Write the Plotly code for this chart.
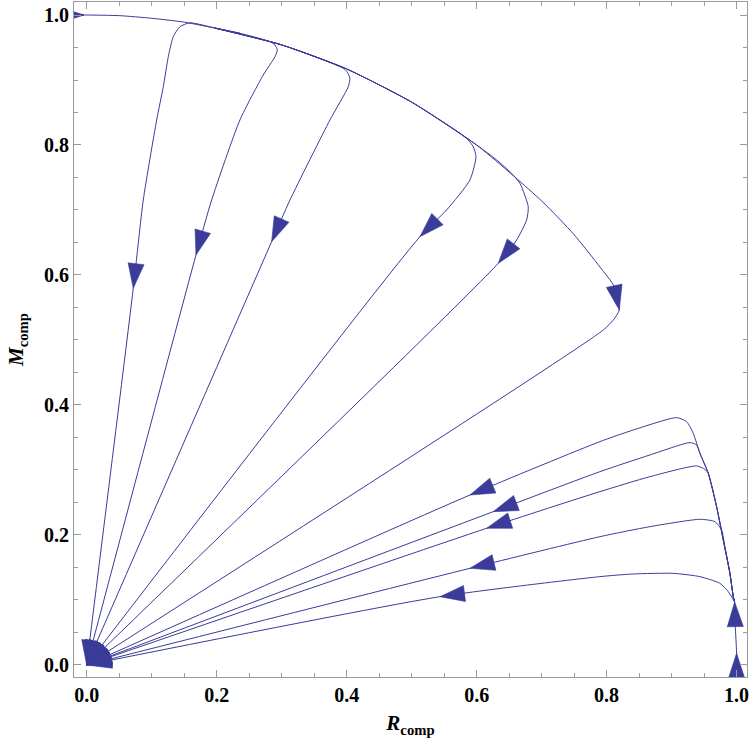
import plotly.graph_objects as go

# ---------------- data ----------------
# trajectory along the top arc towards (0, 1)
t0_x = [0.197, 0.15, 0.10, 0.05, 0.0, -0.02]
t0_y = [0.980, 0.989, 0.995, 0.999, 1.0, 1.0]
t0_arrows = []

# short stream segment at the left edge, top
e_x = [-0.05, -0.004]
e_y = [1.0, 1.0]
e_arrows = [1]

# upper group (leave the arc, run to the origin)
u1_x = [0.236, 0.197, 0.159, 0.1436, 0.1333, 0.1256, 0.1179, 0.1077, 0.0871, 0.0717, 0.0]
u1_y = [0.972, 0.980, 0.988, 0.982, 0.9667, 0.9358, 0.8897, 0.8385, 0.7154, 0.5795, 0.0]
u1_arrows = [9, 10]

u2_x = [0.197, 0.235, 0.282, 0.2897, 0.2933, 0.2897, 0.2717, 0.2358, 0.1923, 0.1682, 0.0]
u2_y = [0.980, 0.972, 0.959, 0.9538, 0.9462, 0.9358, 0.9077, 0.8385, 0.7154, 0.6308, 0.0]
u2_arrows = [9, 10]

u3_x = [0.197, 0.30, 0.3948, 0.401, 0.4051, 0.4025, 0.3743, 0.3128, 0.2846, 0.0]
u3_y = [0.980, 0.954, 0.918, 0.912, 0.9026, 0.8897, 0.8385, 0.7154, 0.6513, 0.0]
u3_arrows = [8, 9]

u4_x = [0.197, 0.30, 0.40, 0.50, 0.5743, 0.587, 0.5948, 0.599, 0.5897, 0.5538, 0.5128, 0.0]
u4_y = [0.980, 0.954, 0.917, 0.866, 0.818, 0.8077, 0.7974, 0.782, 0.7462, 0.70, 0.659, 0.0]
u4_arrows = [10, 11]

u5_x = [0.197, 0.30, 0.40, 0.50, 0.60, 0.6308, 0.6538, 0.6666, 0.6794, 0.6769, 0.6615, 0.6333, 0.0]
u5_y = [0.980, 0.954, 0.917, 0.866, 0.800, 0.7769, 0.7564, 0.741, 0.7051, 0.6846, 0.6538, 0.618, 0.0]
u5_arrows = [11, 12]

u6_x = [0.197, 0.30, 0.40, 0.50, 0.60, 0.70, 0.75, 0.79, 0.812, 0.8195, 0.8103, 0.7949, 0.0]
u6_y = [0.980, 0.954, 0.917, 0.866, 0.800, 0.714, 0.662, 0.612, 0.582, 0.5462, 0.5308, 0.5154, 0.0]
u6_arrows = [9, 12]

# vertical start at (1, 0)
s_x = [1.0, 1.0, 0.998, 0.997]
s_y = [-0.02, 0.018, 0.06, 0.097]
s_arrows = [1, 3]

# lower group (rise along the right arc, then run to the origin)
l1_x = [0.997, 0.9949, 0.9897, 0.9795, 0.9692, 0.9564, 0.9436, 0.9333, 0.9231, 0.9077, 0.841, 0.7897, 0.5897, 0.0]
l1_y = [0.097, 0.1051, 0.141, 0.1923, 0.2436, 0.2949, 0.3256, 0.3564, 0.3744, 0.3805, 0.3615, 0.3436, 0.2615, 0.0]
l1_arrows = [12, 13]

l2_x = [0.997, 0.9949, 0.9897, 0.9795, 0.9692, 0.9564, 0.9436, 0.9385, 0.9282, 0.8666, 0.7897, 0.6256, 0.0]
l2_y = [0.097, 0.1051, 0.141, 0.1923, 0.2436, 0.2949, 0.3256, 0.3385, 0.3421, 0.3231, 0.2974, 0.2359, 0.0]
l2_arrows = [11, 12]

l3_x = [0.997, 0.9949, 0.9897, 0.9795, 0.9692, 0.9564, 0.9513, 0.9385, 0.8666, 0.7897, 0.6154, 0.0]
l3_y = [0.097, 0.1051, 0.141, 0.1923, 0.2436, 0.2949, 0.3010, 0.3062, 0.2897, 0.2667, 0.2103, 0.0]
l3_arrows = [10, 11]

l4_x = [0.997, 0.9949, 0.9897, 0.982, 0.9769, 0.9667, 0.9436, 0.8666, 0.7897, 0.5897, 0.0]
l4_y = [0.097, 0.1051, 0.141, 0.182, 0.2077, 0.2205, 0.2241, 0.2128, 0.1974, 0.1487, 0.0]
l4_arrows = [9, 10]

l5_x = [0.997, 0.9872, 0.9744, 0.9436, 0.9025, 0.841, 0.7897, 0.5436, 0.0]
l5_y = [0.097, 0.1128, 0.1256, 0.1359, 0.141, 0.14, 0.1359, 0.1051, 0.0]
l5_arrows = [7, 8]

tick_vals = [0.0, 0.2, 0.4, 0.6, 0.8, 1.0]
tick_text = ["0.0", "0.2", "0.4", "0.6", "0.8", "1.0"]

x_title = "<b><i>R</i><sub>comp</sub></b>"
y_title = "<b><i>M</i><sub>comp</sub></b>"

# ---------------- figure ----------------
COLOR = "#3b3b99"
ARROW = 26
FRAME = "#9a9a9a"

trajectories = [
    (t0_x, t0_y, t0_arrows), (e_x, e_y, e_arrows),
    (u1_x, u1_y, u1_arrows), (u2_x, u2_y, u2_arrows), (u3_x, u3_y, u3_arrows),
    (u4_x, u4_y, u4_arrows), (u5_x, u5_y, u5_arrows), (u6_x, u6_y, u6_arrows),
    (s_x, s_y, s_arrows),
    (l1_x, l1_y, l1_arrows), (l2_x, l2_y, l2_arrows), (l3_x, l3_y, l3_arrows),
    (l4_x, l4_y, l4_arrows), (l5_x, l5_y, l5_arrows),
]

fig = go.Figure()
for xs, ys, arr in trajectories:
    fig.add_trace(go.Scatter(
        x=xs, y=ys, mode="lines",
        line=dict(color=COLOR, width=1, shape="spline", smoothing=0.6),
        hoverinfo="skip", showlegend=False,
    ))
# arrowheads drawn on top, opaque
for xs, ys, arr in trajectories:
    if not arr:
        continue
    sizes = [ARROW if i in arr else 0 for i in range(len(xs))]
    fig.add_trace(go.Scatter(
        x=xs, y=ys, mode="markers",
        marker=dict(symbol="arrow", angleref="previous", size=sizes, opacity=1,
                    color=COLOR, line=dict(width=0.6, color=COLOR)),
        opacity=1, hoverinfo="skip", showlegend=False,
    ))

font_family = "Liberation Serif, Times New Roman, serif"
tickfont = dict(family=font_family, size=20, color="black", weight="bold")

axis_common = dict(
    tickmode="array", tickvals=tick_vals, ticktext=tick_text,
    ticks="inside", ticklen=7, tickwidth=1, tickcolor=FRAME,
    showline=True, linecolor=FRAME, linewidth=1, mirror="allticks",
    showgrid=False, zeroline=False, tickfont=tickfont,
    minor=dict(dtick=0.05, tick0=0, ticks="inside", ticklen=4, tickwidth=1,
               tickcolor=FRAME, showgrid=False),
)

fig.update_xaxes(range=[-0.0195, 1.016],
                 title=dict(text=x_title, font=dict(family=font_family, size=21, color="black"),
                            standoff=10),
                 **axis_common)
fig.update_yaxes(range=[-0.0185, 1.02],
                 title=dict(text=y_title, font=dict(family=font_family, size=21, color="black"),
                            standoff=14),
                 **axis_common)

fig.update_layout(
    width=753, height=750,
    margin=dict(l=74, r=6, t=2, b=73, autoexpand=False),
    paper_bgcolor="white", plot_bgcolor="white",
)

fig.write_html("out.html")
